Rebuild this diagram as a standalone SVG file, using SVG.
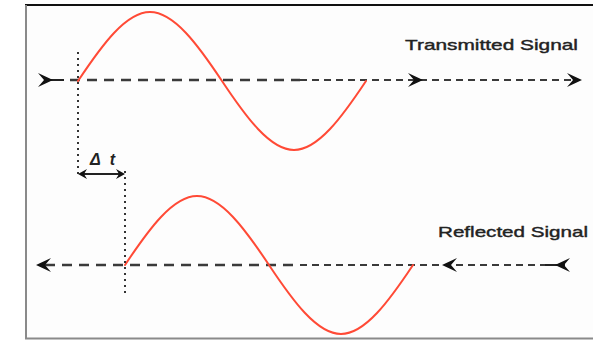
<svg xmlns="http://www.w3.org/2000/svg" width="593" height="340" viewBox="0 0 593 340">
  <style>
    .frame-bg { fill: #fdfdfd; }
    .dash-a { fill: none; stroke: #3a3a3a; stroke-width: 2.5; stroke-dasharray: 10 7; }
    .dash-b { fill: none; stroke: #3a3a3a; stroke-width: 2; stroke-dasharray: 7 5; }
    .solid { fill: none; stroke: #222; stroke-width: 2; }
    .dots { fill: none; stroke: #333; stroke-width: 2; stroke-dasharray: 2 4; }
    .wave { fill: none; stroke: #ff4a36; stroke-width: 2; stroke-linejoin: round; stroke-linecap: round; }
    .arrow { fill: #111; }
    .label { font-family: "Liberation Sans", Arial, sans-serif; font-size: 15px; fill: #222; stroke: #222; stroke-width: 0.4; }
    .dt { font-family: "Liberation Sans", Arial, sans-serif; font-size: 16px; font-style: italic; font-weight: bold; fill: #222; }
  </style>
  <defs>
    <path id="arr" d="M0,0 L-15,-7 L-9,0 L-15,7 Z"/>
    <path id="sarr" d="M0,0 L-9,-5 L-6,0 L-9,5 Z"/>
  </defs>

  <g id="frame">
    <rect class="frame-bg" x="25" y="5" width="568" height="333"/>
    <line x1="25" y1="5" x2="593" y2="5" stroke="#111" stroke-width="2"/>
    <line x1="26" y1="5" x2="26" y2="339" stroke="#8a8a8a" stroke-width="2"/>
    <line x1="25" y1="338.5" x2="593" y2="338.5" stroke="#8a8a8a" stroke-width="2"/>
  </g>

  <g id="transmitted">
    <line class="solid" x1="45" y1="80" x2="64" y2="80"/>
    <line class="dash-a" x1="70" y1="80" x2="300" y2="80"/>
    <line class="dash-b" x1="300" y1="80" x2="575" y2="80"/>
    <use href="#arr" class="arrow" transform="translate(53,80)"/>
    <use href="#arr" class="arrow" transform="translate(423,80)"/>
    <use href="#arr" class="arrow" transform="translate(582,80)"/>
    <path class="wave" d="M78,81 C102,44.9 126,12 150,12 C174,12 198,44.9 222,81 C246,117.1 270,150 294,150 C318,150 342,117.1 366,81"/>
    <text class="label" x="405" y="50" textLength="173" lengthAdjust="spacingAndGlyphs">Transmitted Signal</text>
  </g>

  <g id="reflected">
    <line class="dash-a" x1="45" y1="265" x2="300" y2="265"/>
    <line class="dash-b" x1="300" y1="265" x2="545" y2="265"/>
    <line class="solid" x1="545" y1="265" x2="565" y2="265"/>
    <use href="#arr" class="arrow" transform="translate(36,265) rotate(180)"/>
    <use href="#arr" class="arrow" transform="translate(442,265) rotate(180)"/>
    <use href="#arr" class="arrow" transform="translate(555,265) rotate(180)"/>
    <path class="wave" d="M125,265 C149,228.9 173,196 197,196 C221,196 245,228.9 269,265 C293,301.1 317,334 341,334 C365,334 389,301.1 413,265"/>
    <text class="label" x="438" y="237" textLength="150" lengthAdjust="spacingAndGlyphs">Reflected Signal</text>
  </g>

  <g id="delta-t">
    <line class="dots" x1="78" y1="52" x2="78" y2="176"/>
    <line class="dots" x1="125" y1="171" x2="125" y2="294"/>
    <line class="solid" x1="82" y1="174" x2="121" y2="174"/>
    <use href="#sarr" class="arrow" transform="translate(78,174) rotate(180)"/>
    <use href="#sarr" class="arrow" transform="translate(125,174)"/>
    <text class="dt" x="90" y="165" textLength="25" lengthAdjust="spacing">Δ t</text>
  </g>
</svg>
